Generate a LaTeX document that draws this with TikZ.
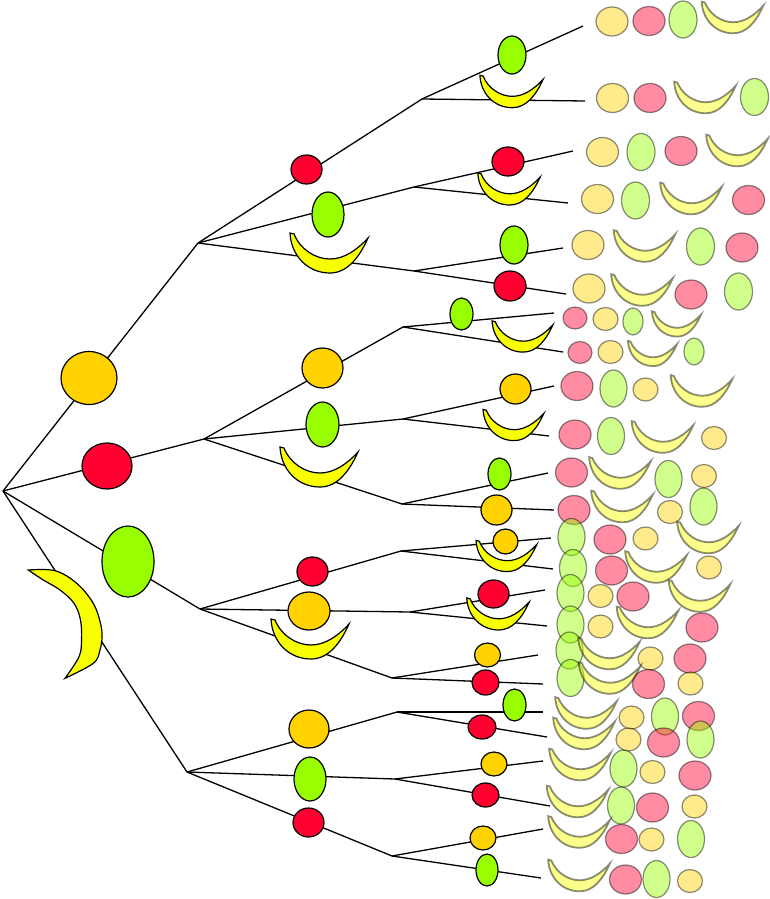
\documentclass[tikz,border=0pt]{standalone}
\usetikzlibrary{shapes.geometric}
\definecolor{cO}{HTML}{FFD200}
\definecolor{cR}{HTML}{FF0030}
\definecolor{cG}{HTML}{99FF00}
\definecolor{cY}{HTML}{F8FF00}
\begin{document}
\begin{tikzpicture}[x=1pt,y=-1pt,
  edge/.style={draw=black,line width=1.3pt},
  blob/.style={ellipse,draw=black,line width=1.2pt,inner sep=0pt,outer sep=0pt},
  sz/.style 2 args={minimum width=#1pt,minimum height=#2pt},
  bO/.style={blob,fill=cO},
  bR/.style={blob,fill=cR},
  bG/.style={blob,fill=cG},
  bC/.style={draw=black,line width=1.2pt,fill=cY},
  faded/.style={opacity=0.45,line width=1.8pt},
  crescent/.pic={
    \path[pic actions] (-39,-20) .. controls (-38,2) and (-22,20) .. (1,20)
      .. controls (18,20) and (30,5) .. (39,-15)
      .. controls (28,-3) and (15,6) .. (1,6)
      .. controls (-14,6) and (-29,-4) .. (-35,-19) -- cycle;
  }]
\useasboundingbox (0,0) rectangle (770,899);
% ---------- junctions ----------
\coordinate (R) at (3,491);
\coordinate (J1) at (198,243);
\coordinate (J2) at (204,439);
\coordinate (J3) at (200,609);
\coordinate (J4) at (187,772);
\coordinate (J11) at (422,99);
\coordinate (J12) at (414,187);
\coordinate (J13) at (414,271);
\coordinate (J21) at (403,327);
\coordinate (J22) at (403,419);
\coordinate (J23) at (402,504);
\coordinate (J31) at (401,551);
\coordinate (J32) at (410,612);
\coordinate (J33) at (392,678);
\coordinate (J41) at (397,712);
\coordinate (J42) at (395,779);
\coordinate (J43) at (392,856);
% leaf ends
\coordinate (L1) at (583,26);   \coordinate (L2) at (585,101);
\coordinate (L3) at (573,151);  \coordinate (L4) at (568,203);
\coordinate (L5) at (563,248);  \coordinate (L6) at (566,294);
\coordinate (L7) at (554,313);  \coordinate (L8) at (563,352);
\coordinate (L9) at (554,386);  \coordinate (L10) at (549,436);
\coordinate (L11) at (548,473); \coordinate (L12) at (554,510);
\coordinate (L13) at (551,538); \coordinate (L14) at (553,569);
\coordinate (L15) at (545,590); \coordinate (L16) at (547,626);
\coordinate (L17) at (538,655); \coordinate (L18) at (543,684);
\coordinate (L19) at (543,712); \coordinate (L20) at (547,737);
\coordinate (L21) at (543,761); \coordinate (L22) at (550,806);
\coordinate (L23) at (543,829); \coordinate (L24) at (541,878);
% ---------- connectors ----------
\draw[edge] (R) -- (J1); \draw[edge] (R) -- (J2); \draw[edge] (R) -- (J3); \draw[edge] (R) -- (J4);
\draw[edge] (J1) -- (J11); \draw[edge] (J1) -- (J12); \draw[edge] (J1) -- (J13);
\draw[edge] (J2) -- (J21); \draw[edge] (J2) -- (J22); \draw[edge] (J2) -- (J23);
\draw[edge] (J3) -- (J31); \draw[edge] (J3) -- (J32); \draw[edge] (J3) -- (J33);
\draw[edge] (J4) -- (J41); \draw[edge] (J4) -- (J42); \draw[edge] (J4) -- (J43);
\draw[edge] (J11) -- (L1); \draw[edge] (J11) -- (L2);
\draw[edge] (J12) -- (L3); \draw[edge] (J12) -- (L4);
\draw[edge] (J13) -- (L5); \draw[edge] (J13) -- (L6);
\draw[edge] (J21) -- (L7); \draw[edge] (J21) -- (L8);
\draw[edge] (J22) -- (L9); \draw[edge] (J22) -- (L10);
\draw[edge] (J23) -- (L11); \draw[edge] (J23) -- (L12);
\draw[edge] (J31) -- (L13); \draw[edge] (J31) -- (L14);
\draw[edge] (J32) -- (L15); \draw[edge] (J32) -- (L16);
\draw[edge] (J33) -- (L17); \draw[edge] (J33) -- (L18);
\draw[edge] (J41) -- (L19); \draw[edge] (J41) -- (L20);
\draw[edge] (J42) -- (L21); \draw[edge] (J42) -- (L22);
\draw[edge] (J43) -- (L23); \draw[edge] (J43) -- (L24);
% ---------- level 1 ----------
\node[bO,sz={56}{53}] (a1) at (89,378) {};
\node[bR,sz={50}{46}] (a2) at (107,466) {};
\node[bG,sz={52}{71}] (a3) at (128,561.5) {};
\coordinate (a4) at (80,625);
\filldraw[bC] plot[smooth,tension=0.6] coordinates {(28.3,570) (55,570.7) (76.7,583.3) (93.3,603.3) (100.5,623.3) (102,636.7) (100,650) (93.3,663.3) (65,678.3)}
  -- plot[smooth,tension=0.6] coordinates {(65,678.3) (79,656.7) (81.5,640) (80.5,620) (74,603.3) (60,590) (43.3,580) (28.3,570)} -- cycle;
% ---------- level 2 ----------
\node[bR,sz={31}{29}] (b11) at (306.5,169.5) {};
\node[bG,sz={32}{45}] (b12) at (328,214.5) {};
\pic[bC] (b13) at (329,253) {crescent};
\node[bO,sz={41}{40}] (b21) at (322.5,368) {};
\node[bG,sz={33}{45}] (b22) at (322.5,424.5) {};
\pic[bC] (b23) at (319,467) {crescent};
\node[bR,sz={31}{29}] (b31) at (312.5,571.5) {};
\node[bO,sz={42}{38}] (b32) at (309,611) {};
\pic[bC] (b33) at (310,639) {crescent};
\node[bO,sz={40}{38}] (b41) at (309,729) {};
\node[bG,sz={32}{44}] (b42) at (310,779) {};
\node[bR,sz={31}{29}] (b43) at (308.5,822.5) {};
% ---------- level 3 ----------
\node[bG,sz={28}{38}] (c1) at (512,55) {};
\pic[bC,scale=0.81] (c2) at (511.5,91.5) {crescent};
\node[bR,sz={32}{29}] (c3) at (508,161.5) {};
\pic[bC,scale=0.8] (c4) at (509,189) {crescent};
\node[bG,sz={28}{38}] (c5) at (514,245) {};
\node[bR,sz={32}{30}] (c6) at (510,286) {};
\node[bG,sz={23}{32}] (c7) at (461.5,314) {};
\pic[bC,scale=0.78] (c8) at (522.5,336.5) {crescent};
\node[bO,sz={31}{30}] (c9) at (515.5,389) {};
\pic[bC,scale=0.78] (c10) at (513.5,425) {crescent};
\node[bG,sz={23}{32}] (c11) at (499.5,474) {};
\node[bO,sz={31}{30}] (c12) at (496.5,510) {};
\node[bO,sz={25}{25}] (c13) at (505.5,541.5) {};
\pic[bC,scale=0.78] (c14) at (506.5,556) {crescent};
\node[bR,sz={31}{28}] (c15) at (493.5,594) {};
\pic[bC,scale=0.8] (c16) at (498,614) {crescent};
\node[bO,sz={26}{24}] (c17) at (487.5,655) {};
\node[bR,sz={27}{25}] (c18) at (485.5,682.5) {};
\node[bG,sz={23}{32}] (c19) at (514.5,705) {};
\node[bR,sz={28}{24}] (c20) at (482,727) {};
\node[bO,sz={26}{24}] (c21) at (494,764) {};
\node[bR,sz={27}{24}] (c22) at (485.5,795) {};
\node[bO,sz={26}{24}] (c23) at (483,838) {};
\node[bG,sz={22}{32}] (c24) at (487,870) {};
% ---------- faded leaves ----------
\begin{scope}[every node/.append style={faded}]
% rows 1-6
\node[bO,sz={32}{29}] (f1a) at (612,21.5) {};
\node[bR,sz={32}{29}] (f1b) at (649,21) {};
\node[bG,sz={28}{37}] (f1c) at (683,19.5) {};
\pic[bC,faded,scale=0.79] (f1d) at (732.5,17.5) {crescent};
\node[bO,sz={32}{29}] (f2a) at (612.5,98) {};
\node[bR,sz={32}{29}] (f2b) at (650,98) {};
\pic[bC,faded,scale=0.79] (f2c) at (705,97.5) {crescent};
\node[bG,sz={28}{37}] (f2d) at (754.5,97) {};
\node[bO,sz={32}{29}] (f3a) at (602.5,152) {};
\node[bG,sz={28}{37}] (f3b) at (641,152) {};
\node[bR,sz={32}{29}] (f3c) at (681,151) {};
\pic[bC,faded,scale=0.79] (f3d) at (737,150.5) {crescent};
\node[bO,sz={32}{29}] (f4a) at (597.5,199) {};
\node[bG,sz={28}{37}] (f4b) at (635.5,200.5) {};
\pic[bC,faded,scale=0.79] (f4c) at (691,198.5) {crescent};
\node[bR,sz={32}{29}] (f4d) at (748.5,200) {};
\node[bO,sz={32}{29}] (f5a) at (588,245) {};
\pic[bC,faded,scale=0.79] (f5b) at (644.5,246) {crescent};
\node[bG,sz={28}{37}] (f5c) at (700.5,246.5) {};
\node[bR,sz={32}{29}] (f5d) at (742,247.5) {};
\node[bO,sz={32}{29}] (f6a) at (589,288.5) {};
\pic[bC,faded,scale=0.79] (f6b) at (642,290) {crescent};
\node[bR,sz={32}{29}] (f6c) at (691,294.5) {};
\node[bG,sz={28}{37}] (f6d) at (738.5,291.5) {};
% rows 7-8 (small)
\node[bR,sz={24}{22}] (f7a) at (575,318) {};
\node[bO,sz={25}{23}] (f7b) at (605.5,319) {};
\node[bG,sz={20}{27}] (f7c) at (633,321.5) {};
\pic[bC,faded,scale=0.63] (f7d) at (676.5,324) {crescent};
\node[bR,sz={24}{22}] (f8a) at (580,352.5) {};
\node[bO,sz={25}{23}] (f8b) at (610.5,352) {};
\pic[bC,faded,scale=0.63] (f8c) at (652.5,353.5) {crescent};
\node[bG,sz={20}{27}] (f8d) at (694,351.5) {};
% rows 9-12
\node[bR,sz={32}{29}] (f9a) at (577,386) {};
\node[bG,sz={27}{37}] (f9b) at (613.5,388.5) {};
\node[bO,sz={25}{23}] (f9c) at (645.5,389.5) {};
\pic[bC,faded,scale=0.79] (f9d) at (701.5,391) {crescent};
\node[bR,sz={32}{29}] (f10a) at (575,434.5) {};
\node[bG,sz={27}{37}] (f10b) at (611,436) {};
\pic[bC,faded,scale=0.79] (f10c) at (662.5,437) {crescent};
\node[bO,sz={25}{23}] (f10d) at (714,438) {};
\node[bR,sz={32}{29}] (f11a) at (571.5,472.5) {};
\pic[bC,faded,scale=0.79] (f11b) at (620,473) {crescent};
\node[bG,sz={27}{37}] (f11c) at (668.5,479) {};
\node[bO,sz={25}{23}] (f11d) at (704,476) {};
\node[bR,sz={32}{29}] (f12a) at (574,510) {};
\pic[bC,faded,scale=0.79] (f12b) at (622,506.5) {crescent};
\node[bO,sz={25}{23}] (f12c) at (670,512) {};
\node[bG,sz={27}{37}] (f12d) at (703.5,506.5) {};
% rows 13-18
\node[bG,sz={27}{37}] (f13a) at (571.5,537) {};
\node[bR,sz={32}{29}] (f13b) at (610,539.5) {};
\node[bO,sz={25}{23}] (f13c) at (645.5,538.5) {};
\pic[bC,faded,scale=0.79] (f13d) at (708,537.5) {crescent};
\node[bG,sz={27}{37}] (f14a) at (573,568) {};
\node[bR,sz={32}{29}] (f14b) at (611.5,570.5) {};
\pic[bC,faded,scale=0.79] (f14c) at (656,567) {crescent};
\node[bO,sz={25}{23}] (f14d) at (709,567.5) {};
\node[bG,sz={27}{37}] (f15a) at (570.5,593) {};
\node[bO,sz={25}{23}] (f15b) at (600.5,596) {};
\node[bR,sz={32}{29}] (f15c) at (633,596.5) {};
\pic[bC,faded,scale=0.79] (f15d) at (699.5,596) {crescent};
\node[bG,sz={27}{37}] (f16a) at (570.5,624.5) {};
\node[bO,sz={25}{23}] (f16b) at (600.5,626.5) {};
\pic[bC,faded,scale=0.79] (f16c) at (647.5,622.5) {crescent};
\node[bR,sz={32}{29}] (f16d) at (702,627.5) {};
\node[bG,sz={27}{37}] (f17a) at (569.5,650.5) {};
\pic[bC,faded,scale=0.79] (f17b) at (609,653.5) {crescent};
\node[bO,sz={25}{23}] (f17c) at (650.5,658.5) {};
\node[bR,sz={32}{29}] (f17d) at (690,658.5) {};
\node[bG,sz={27}{37}] (f18a) at (570.5,678) {};
\pic[bC,faded,scale=0.79] (f18b) at (609.5,678) {crescent};
\node[bR,sz={32}{29}] (f18c) at (648.5,684) {};
\node[bO,sz={25}{23}] (f18d) at (690.5,683.5) {};
% rows 19-24
\pic[bC,faded,scale=0.79] (f19a) at (586,713) {crescent};
\node[bO,sz={25}{23}] (f19b) at (631.5,717.5) {};
\node[bG,sz={27}{37}] (f19c) at (665,716.5) {};
\node[bR,sz={32}{29}] (f19d) at (698.5,716) {};
\pic[bC,faded,scale=0.79] (f20a) at (584,733.5) {crescent};
\node[bO,sz={25}{23}] (f20b) at (628.5,739.5) {};
\node[bR,sz={32}{29}] (f20c) at (663.5,742.5) {};
\node[bG,sz={27}{37}] (f20d) at (700.5,739.5) {};
\pic[bC,faded,scale=0.79] (f21a) at (580,764.5) {crescent};
\node[bG,sz={27}{37}] (f21b) at (623.5,768.5) {};
\node[bO,sz={25}{23}] (f21c) at (652.5,772) {};
\node[bR,sz={32}{29}] (f21d) at (695,775.5) {};
\pic[bC,faded,scale=0.79] (f22a) at (577.5,801.5) {crescent};
\node[bG,sz={27}{37}] (f22b) at (621,805.5) {};
\node[bR,sz={32}{29}] (f22c) at (652.5,807.5) {};
\node[bO,sz={25}{23}] (f22d) at (694.5,806.5) {};
\pic[bC,faded,scale=0.79] (f23a) at (579,832) {crescent};
\node[bR,sz={32}{29}] (f23b) at (621.5,839) {};
\node[bO,sz={25}{23}] (f23c) at (651.5,839.5) {};
\node[bG,sz={27}{37}] (f23d) at (691,839) {};
\pic[bC,faded,scale=0.79] (f24a) at (579,875.5) {crescent};
\node[bR,sz={32}{29}] (f24b) at (625.5,879.5) {};
\node[bG,sz={27}{37}] (f24c) at (656.5,879) {};
\node[bO,sz={25}{23}] (f24d) at (690,881) {};
\end{scope}
\end{tikzpicture}
\end{document}
